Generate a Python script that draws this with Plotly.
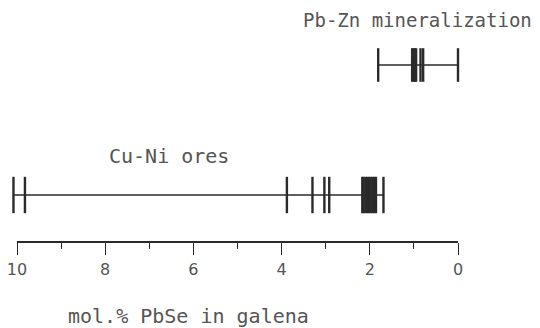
import plotly.graph_objects as go

# ---- data (mol.% PbSe in galena) ----
groups = ["Cu-Ni ores", "Pb-Zn mineralization"]
group_rows = [1, 2]
cuni_range = [10.08, 1.69]
cuni_values = [9.82, 3.88, 3.30, 3.03, 2.92,
               1.86, 1.90, 1.94, 1.98, 2.02, 2.06, 2.10, 2.14, 2.17]
pbzn_range = [1.81, 0.0]
pbzn_values = [0.95, 0.98, 1.01, 1.04, 0.85, 0.79]
major_ticks = [10, 8, 6, 4, 2, 0]
tick_labels = ["10", "8", "6", "4", "2", "0"]
axis_title = "mol.% PbSe in galena"

INK = "#2a2a2a"
TXT = "#555555"
FONT = "DejaVu Sans Mono"

W, H = 540, 328
x0_px, x10_px = 458, 17
ppu = (x0_px - x10_px) / 10.0
full_range = [10 + x10_px / ppu, -(W - x0_px) / ppu]

fig = go.Figure()

series = [(cuni_range, cuni_values, group_rows[0], 26),
          (pbzn_range, pbzn_values, group_rows[1], 24)]
for rng, vals, row, tick_h in series:
    fig.add_trace(go.Scatter(x=rng, y=[row, row], mode="lines",
                             line=dict(color=INK, width=1.6),
                             xaxis="x2", yaxis="y", hoverinfo="skip",
                             showlegend=False))
    fig.add_trace(go.Scatter(x=rng + vals, y=[row] * (len(rng) + len(vals)),
                             mode="markers",
                             marker=dict(symbol="line-ns", size=tick_h,
                                         line=dict(color=INK, width=2.4)),
                             xaxis="x2", yaxis="y", cliponaxis=False,
                             showlegend=False))

fig.add_trace(go.Scatter(x=[major_ticks[0], major_ticks[-1]], y=[None, None],
                         mode="markers", xaxis="x", yaxis="y",
                         showlegend=False, hoverinfo="skip"))

plot_bottom = 241


def py(p):
    return (plot_bottom - p) / plot_bottom


fig.update_layout(
    template="none",
    width=W, height=H,
    margin=dict(l=0, r=0, t=0, b=H - plot_bottom, pad=0, autoexpand=False),
    paper_bgcolor="white", plot_bgcolor="white",
    xaxis=dict(domain=[x10_px / W, x0_px / W], range=[10, 0],
               tickvals=major_ticks, ticktext=tick_labels,
               ticks="outside", ticklen=12, tickwidth=1.4, tickcolor=INK,
               minor=dict(tickvals=[9, 7, 5, 3, 1], ticks="outside",
                          ticklen=6, tickwidth=1.4, tickcolor=INK),
               showline=True, linecolor=INK, linewidth=1.5,
               showgrid=False, zeroline=False, automargin=False,
               tickfont=dict(family="DejaVu Sans", size=16, color=TXT),
               ticklabelstandoff=1, anchor="y"),
    xaxis2=dict(domain=[0, 1], range=full_range, visible=False,
                anchor="y", showgrid=False, zeroline=False, automargin=False),
    yaxis=dict(range=[1 - (plot_bottom - 195) / 130.0, 2 + 65 / 130.0],
               visible=False, showgrid=False, zeroline=False, automargin=False),
    showlegend=False,
)

fig.add_annotation(text=groups[1], xref="paper", yref="paper",
                   x=534 / W, y=py(20), xanchor="right", yanchor="middle",
                   showarrow=False, font=dict(family=FONT, size=19, color=TXT))
fig.add_annotation(text=groups[0], xref="paper", yref="paper",
                   x=107 / W, y=py(156), xanchor="left", yanchor="middle",
                   showarrow=False, font=dict(family=FONT, size=20, color=TXT))
fig.add_annotation(text=axis_title, xref="paper", yref="paper",
                   x=66 / W, y=py(316), xanchor="left", yanchor="middle",
                   showarrow=False, font=dict(family=FONT, size=20, color=TXT))

fig.write_html("out.html")
